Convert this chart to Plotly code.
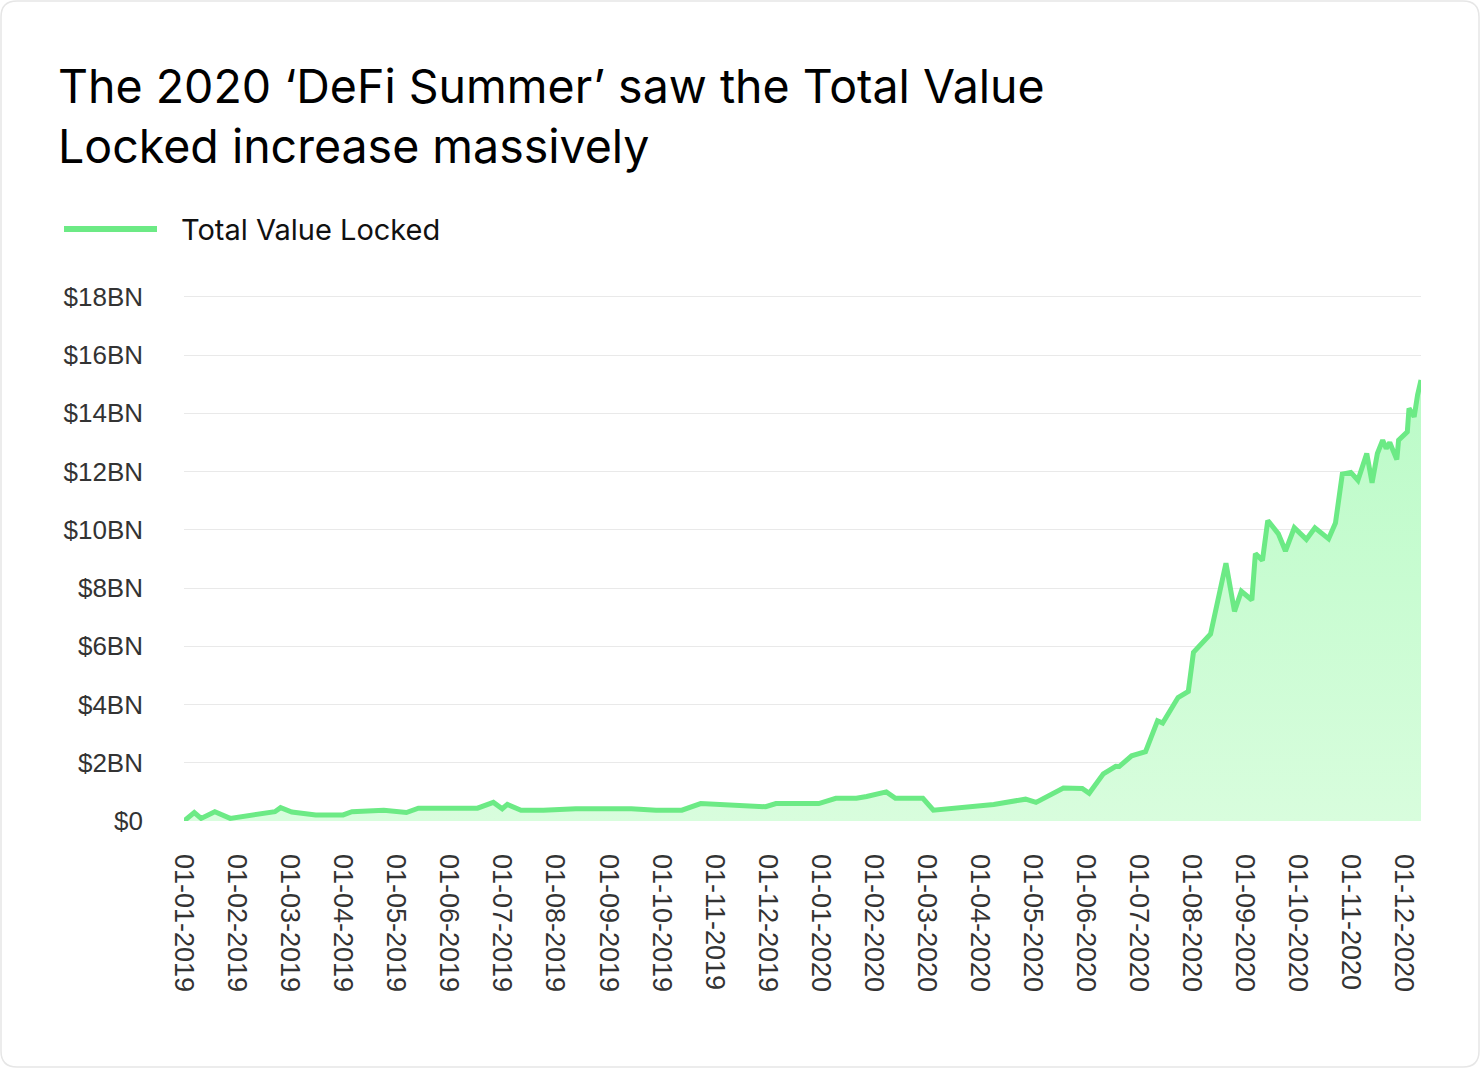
import calendar
import plotly.graph_objects as go

# ---------------- data ----------------
dates = [
    "2019-01-01", "2019-01-07", "2019-01-11", "2019-01-19", "2019-01-28",
    "2019-02-21", "2019-02-24", "2019-03-02", "2019-03-16", "2019-04-01",
    "2019-04-06", "2019-04-24", "2019-05-07", "2019-05-14", "2019-06-17",
    "2019-06-26", "2019-07-01", "2019-07-04", "2019-07-12", "2019-07-25",
    "2019-08-13", "2019-09-14", "2019-09-28", "2019-10-13", "2019-10-24",
    "2019-11-30", "2019-12-06", "2019-12-31", "2020-01-10", "2020-01-22",
    "2020-01-28", "2020-02-08", "2020-02-13", "2020-02-28", "2020-03-05",
    "2020-04-09", "2020-04-27", "2020-05-03", "2020-05-19", "2020-05-30",
    "2020-06-03", "2020-06-11", "2020-06-18", "2020-06-20", "2020-06-27",
    "2020-07-05", "2020-07-12", "2020-07-15", "2020-07-24", "2020-07-30",
    "2020-08-02", "2020-08-12", "2020-08-21", "2020-08-26", "2020-08-30",
    "2020-09-05", "2020-09-07", "2020-09-11", "2020-09-14", "2020-09-20",
    "2020-09-24", "2020-09-29", "2020-10-06", "2020-10-11", "2020-10-19",
    "2020-10-23", "2020-10-27", "2020-11-01", "2020-11-05", "2020-11-10",
    "2020-11-13", "2020-11-16", "2020-11-19", "2020-11-21", "2020-11-23",
    "2020-11-27", "2020-11-28", "2020-12-03", "2020-12-04", "2020-12-07",
    "2020-12-09", "2020-12-11",
]
tvl_bn = [
    0.0, 0.29, 0.09, 0.32, 0.09,
    0.32, 0.46, 0.31, 0.21, 0.21,
    0.32, 0.37, 0.29, 0.44, 0.44,
    0.64, 0.42, 0.57, 0.37, 0.37,
    0.42, 0.42, 0.37, 0.37, 0.60,
    0.49, 0.60, 0.60, 0.78, 0.78,
    0.84, 1.00, 0.78, 0.78, 0.37,
    0.57, 0.75, 0.64, 1.13, 1.12,
    0.95, 1.62, 1.88, 1.87, 2.24,
    2.38, 3.44, 3.36, 4.24, 4.45,
    5.79, 6.42, 8.85, 7.20, 7.89,
    7.59, 9.18, 8.95, 10.32, 9.86,
    9.27, 10.07, 9.67, 10.07, 9.69,
    10.23, 11.91, 11.97, 11.70, 12.62,
    11.61, 12.62, 13.08, 12.79, 13.00,
    12.41, 13.08, 13.36, 14.17, 13.88,
    14.63, 15.14,
]
tick_labels = [f"01-{m:02d}-{y}" for y in (2019, 2020) for m in range(1, 13)]
y_ticks = [0, 2, 4, 6, 8, 10, 12, 14, 16, 18]
y_tick_labels = ["$0"] + [f"${v}BN" for v in y_ticks[1:]]

TITLE = "The 2020 \u2018DeFi Summer\u2019 saw the Total Value<br>Locked increase massively"
SERIES = "Total Value Locked"


# month-index position (axis is spaced evenly by month)
def month_pos(d):
    y, m, day = (int(p) for p in d.split("-"))
    return (y - 2019) * 12 + (m - 1) + (day - 1) / calendar.monthrange(y, m)[1]


xs = [month_pos(d) for d in dates]

LINE = "#6cea85"
W, H = 1480, 1068
L, R, T, B = 184, 59, 291, 247
pw, ph = W - L - R, H - T - B


def px_x(px):
    return (px - L) / pw


def px_y(py):
    return (H - B - py) / ph


fig = go.Figure()
fig.add_trace(go.Scatter(
    x=xs, y=tvl_bn, mode="lines", name=SERIES,
    line=dict(color=LINE, width=5, shape="linear"),
    fill="tozeroy",
    fillgradient=dict(type="vertical", start=0, stop=16,
                      colorscale=[[0, "#d8fddd"], [1, "#b9fbc6"]]),
    showlegend=False,
))

# rounded card border
x0, x1, y0, y1, r = 1.0, W - 1.0, 1.0, H - 1.0, 16
path = (
    f"M {px_x(x0 + r)},{px_y(y0)} L {px_x(x1 - r)},{px_y(y0)} "
    f"Q {px_x(x1)},{px_y(y0)} {px_x(x1)},{px_y(y0 + r)} "
    f"L {px_x(x1)},{px_y(y1 - r)} Q {px_x(x1)},{px_y(y1)} {px_x(x1 - r)},{px_y(y1)} "
    f"L {px_x(x0 + r)},{px_y(y1)} Q {px_x(x0)},{px_y(y1)} {px_x(x0)},{px_y(y1 - r)} "
    f"L {px_x(x0)},{px_y(y0 + r)} Q {px_x(x0)},{px_y(y0)} {px_x(x0 + r)},{px_y(y0)} Z"
)
shapes = [
    dict(type="path", xref="paper", yref="paper", path=path,
         line=dict(color="#e6e6e6", width=1.5), layer="below"),
    # legend swatch
    dict(type="line", xref="paper", yref="paper",
         x0=px_x(64), x1=px_x(157), y0=px_y(229), y1=px_y(229),
         line=dict(color=LINE, width=6)),
]
annotations = [
    dict(text=SERIES, xref="paper", yref="paper", x=px_x(179), y=px_y(229),
         xanchor="left", yanchor="middle", showarrow=False,
         font=dict(family="Inter, Roboto, sans-serif", size=29, color="#111111")),
]

fig.update_layout(
    width=W, height=H,
    margin=dict(l=L, r=R, t=T, b=B),
    paper_bgcolor="white", plot_bgcolor="white",
    title=dict(text=TITLE, x=58 / W, xanchor="left", xref="container",
               y=1 - 103 / H, yanchor="top", yref="container",
               font=dict(family="Inter, Roboto, sans-serif", size=46.5, color="#000000")),
    shapes=shapes, annotations=annotations,
    showlegend=False,
    xaxis=dict(
        range=[0, xs[-1]],
        tickmode="array", tickvals=list(range(len(tick_labels))), ticktext=tick_labels,
        tickangle=90, showgrid=False, zeroline=False, showline=False,
        ticks="", ticklabelstandoff=32,
        tickfont=dict(family="Liberation Sans, Arial, sans-serif", size=27, color="#333333"),
    ),
    yaxis=dict(
        range=[0, 18.2],
        tickmode="array", tickvals=y_ticks, ticktext=y_tick_labels,
        showgrid=True, gridcolor="#e9e9e9", gridwidth=1,
        zeroline=False, showline=False, ticks="", ticklabelstandoff=40,
        tickfont=dict(family="Liberation Sans, Arial, sans-serif", size=26, color="#333333"),
    ),
)

fig.write_html("out.html", config={"displayModeBar": False},
               post_script="document.body.style.margin='0';")
